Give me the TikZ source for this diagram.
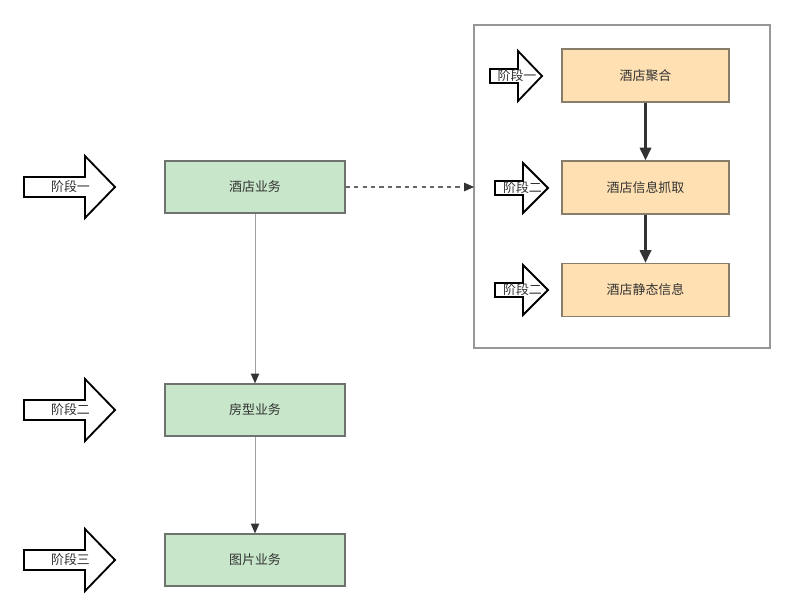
\documentclass[tikz,border=0pt]{standalone}
\usepackage{fontspec}
\newfontfamily\cjk{Noto Sans CJK SC}
\usepackage{tikz}
\usetikzlibrary{positioning,arrows.meta}
\usepackage{xcolor}
\definecolor{bizgreen}{RGB}{200,230,201}
\definecolor{bizorange}{RGB}{255,224,178}
\definecolor{edgegray}{RGB}{110,115,110}
\definecolor{edgebrown}{RGB}{135,125,105}
\definecolor{inkdark}{RGB}{51,51,51}
\definecolor{framegray}{RGB}{150,150,150}
% block arrow: name, x, y, shaft, head, shaft half, head half, label
\newcommand{\stagearrow}[8]{%
  \draw[stagearr] (#2,#3-#6) -- (#2+#4,#3-#6) -- (#2+#4,#3-#7)
    -- (#2+#4+#5,#3) -- (#2+#4,#3+#7) -- (#2+#4,#3+#6)
    -- (#2,#3+#6) -- cycle;
  \node[stagetxt] (#1) at ({#2+(#4+#5)/2+1},#3) {#8};
}

\begin{document}
\begin{tikzpicture}[x=0.025cm, y=-0.025cm,
  gbox/.style={draw=edgegray, fill=bizgreen, line width=0.9pt,
               minimum width=4.5cm, minimum height=1.3cm,
               font=\cjk\fontsize{9.2}{11}\selectfont, text=inkdark},
  obox/.style={draw=edgebrown, fill=bizorange, line width=0.9pt,
               minimum width=4.175cm, minimum height=1.325cm,
               font=\cjk\fontsize{9.2}{11}\selectfont, text=inkdark},
  stagearr/.style={draw=black, fill=white, line width=1.3pt, line join=miter},
  stagetxt/.style={font=\cjk\fontsize{9.2}{11}\selectfont, text=inkdark, inner sep=0pt},
  garc/.style={-{Triangle[length=7pt, width=6pt, color=inkdark]},
               draw=gray!75, line width=0.7pt},
  oarc/.style={-{Triangle[length=9pt, width=8pt]}, draw=inkdark,
               line width=1.8pt},
  darc/.style={-{Triangle[length=7pt, width=6pt, color=inkdark]},
               draw=gray!80!black, dashed, line width=0.8pt},
]
  \useasboundingbox (0,0) rectangle (795,615);
  % container on the right
  \draw[framegray, line width=1.4pt] (474,25) rectangle (770,348);
  % left column
  \node[gbox] (hotel) at (255,187) {酒店业务};
  \node[gbox] (room)  at (255,410) {房型业务};
  \node[gbox] (pic)   at (255,560) {图片业务};
  \draw[garc] (hotel) -- (room);
  \draw[garc] (room) -- (pic);
  % right column
  \node[obox] (agg)    at (645.5,75.5)  {酒店聚合};
  \node[obox] (crawl)  at (645.5,187.5) {酒店信息抓取};
  \node[obox] (static) at (645.5,290)   {酒店静态信息};
  \draw[oarc] (agg) -- (crawl);
  \draw[oarc] (crawl) -- (static);
  \coordinate (frameW) at (474,187);
  \draw[darc] (hotel.east) -- (frameW);
  % stage arrows
  \foreach \n/\y/\lbl in {a/187/阶段一, b/410/阶段二, c/560/阶段三}{
    \stagearrow{s\n}{24}{\y}{61}{30}{10}{31}{\lbl}
  }
  \stagearrow{t1}{490}{76}{28}{24}{7}{25}{阶段一}
  \stagearrow{t2}{495}{188}{28}{25}{7}{25}{阶段二}
  \stagearrow{t3}{495}{290}{28}{25}{7}{25}{阶段二}
\end{tikzpicture}
\end{document}
